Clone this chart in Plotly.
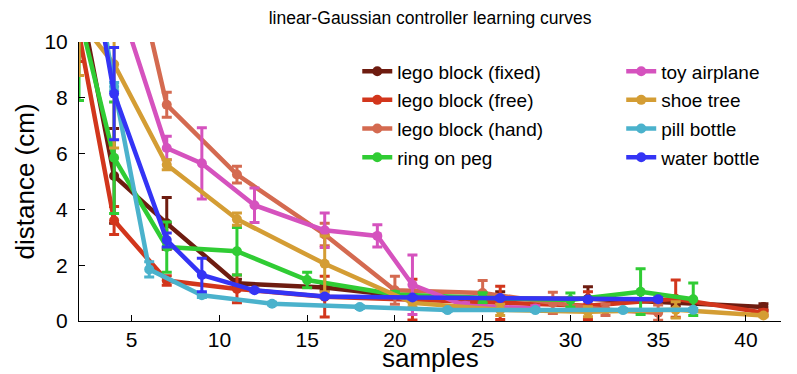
import plotly.graph_objects as go

# learning curves: samples vs distance (cm), mean and error per object

names = ["lego block (fixed)", "lego block (free)", "lego block (hand)", "ring on peg",
         "toy airplane", "shoe tree", "pill bottle", "water bottle"]
colors = ["rgb(110,28,16)", "rgb(210,54,28)", "rgb(212,106,80)", "rgb(48,204,52)",
          "rgb(213,82,190)", "rgb(212,157,52)", "rgb(75,178,204)", "rgb(52,52,245)"]

fixed_x = [2, 4, 7, 11, 16, 21, 26, 31, 36, 41]
fixed_y = [11.7, 5.2, 3.5, 1.35, 1.2, 0.85, 0.8, 0.8, 0.65, 0.5]
fixed_err = [0, 1.7, 0.93, 0.15, 0.1, 0.1, 0.25, 0.43, 0.1, 0.12]

free_x = [2, 4, 7, 11, 16, 21, 26, 31, 36, 41]
free_y = [10.3, 3.6, 1.45, 1.15, 0.87, 0.77, 0.65, 0.55, 0.8, 0.3]
free_err = [1.0, 0.5, 0.17, 0.5, 0.73, 0.73, 0.6, 0.5, 0.67, 0.1]

hand_x = [4, 7, 11, 16, 20, 25, 29, 32, 35]
hand_y = [15.9, 7.75, 5.25, 3.1, 1.1, 1.0, 0.65, 0.4, 0.3]
hand_err = [0, 0.45, 0.3, 0.4, 0.5, 0.45, 0.38, 0.2, 0.27]

ring_x = [2, 4, 7, 11, 15, 20, 25, 30, 34, 37]
ring_y = [11.0, 5.85, 2.65, 2.5, 1.47, 0.95, 0.83, 0.75, 1.05, 0.78]
ring_err = [3.1, 2.0, 0.9, 0.85, 0.28, 0.1, 0.18, 0.25, 0.82, 0.58]

plane_x = [4, 7, 9, 12, 16, 19, 21, 24, 28]
plane_y = [12.0, 6.2, 5.65, 4.15, 3.25, 3.05, 1.3, 0.55, 0.45]
plane_err = [0, 0.42, 1.28, 0.62, 0.62, 0.4, 1.07, 0.1, 0.1]

shoe_x = [2, 4, 7, 11, 16, 21, 26, 31, 36, 41]
shoe_y = [10.8, 9.2, 5.6, 3.65, 2.05, 0.65, 0.4, 0.33, 0.4, 0.2]
shoe_err = [2.0, 3.0, 0.18, 0.22, 1.0, 0.15, 0.2, 0.18, 0.29, 0.05]

pill_x = [2, 4, 6, 9, 13, 18, 23, 28, 33, 37]
pill_y = [16.0, 8.4, 1.85, 0.92, 0.62, 0.5, 0.39, 0.39, 0.39, 0.4]
pill_err = [0, 0.15, 0.27, 0.08, 0.05, 0.05, 0.05, 0.05, 0.05, 0.05]

water_x = [2, 4, 7, 9, 12, 16, 21, 26, 31, 35]
water_y = [15.3, 8.15, 2.9, 1.65, 1.1, 0.88, 0.84, 0.82, 0.77, 0.78]
water_err = [0, 1.65, 0.25, 0.6, 0.05, 0.05, 0.05, 0.05, 0.05, 0.05]

series = [(fixed_x, fixed_y, fixed_err), (free_x, free_y, free_err),
          (hand_x, hand_y, hand_err), (ring_x, ring_y, ring_err),
          (plane_x, plane_y, plane_err), (shoe_x, shoe_y, shoe_err),
          (pill_x, pill_y, pill_err), (water_x, water_y, water_err)]

FONT = "Arial, Liberation Sans, sans-serif"

fig = go.Figure()
for i, (xs, ys, errs) in enumerate(series):
    fig.add_trace(go.Scatter(
        x=xs, y=ys,
        mode='lines+markers',
        name=names[i],
        line=dict(color=colors[i], width=4.5),
        marker=dict(color=colors[i], size=10),
        error_y=dict(type='data', array=errs, visible=True,
                     color=colors[i], thickness=3, width=5),
        legendgroup=names[i],
        legend='legend' if i < 4 else 'legend2',
    ))

legend_style = dict(font=dict(family=FONT, size=19, color='black'),
                    bgcolor='rgba(0,0,0,0)', tracegroupgap=1,
                    xanchor='left', yanchor='top', y=0.963)

# axis titles as annotations so they sit where the original has them
fig.add_annotation(text='samples', xref='paper', yref='paper', x=0.5, y=-0.133,
                   xanchor='center', yanchor='middle', showarrow=False,
                   font=dict(family=FONT, size=26, color='black'))
fig.add_annotation(text='distance (cm)', xref='paper', yref='paper', x=-0.077, y=0.5,
                   xanchor='center', yanchor='middle', textangle=-90, showarrow=False,
                   font=dict(family=FONT, size=26, color='black'))

# the page body adds 8px around the figure, so the figure is 8px smaller
fig.update_layout(
    width=789, height=366,
    paper_bgcolor='white', plot_bgcolor='white',
    margin=dict(l=71, r=16, t=34, b=53),
    font=dict(family=FONT, size=21, color='black'),
    title=dict(text='linear-Gaussian controller learning curves',
               font=dict(family=FONT, size=17.5, color='black'),
               x=0.535, xanchor='center', y=0.973, yanchor='middle'),
    xaxis=dict(range=[2, 42], tickvals=[5, 10, 15, 20, 25, 30, 35, 40],
               ticks='inside', ticklen=6, tickcolor='black',
               showline=True, linecolor='black', linewidth=1,
               showgrid=False, zeroline=False, automargin=False,
               tickfont=dict(family=FONT, size=21)),
    yaxis=dict(range=[0, 10], tickvals=[0, 2, 4, 6, 8, 10],
               ticks='inside', ticklen=6, tickcolor='black',
               showline=True, linecolor='black', linewidth=1,
               showgrid=False, zeroline=False, automargin=False,
               ticklabelstandoff=6,
               tickfont=dict(family=FONT, size=21)),
    legend=dict(x=0.3964, **legend_style),
    legend2=dict(x=0.7724, **legend_style),
)

fig.write_html("out.html")
